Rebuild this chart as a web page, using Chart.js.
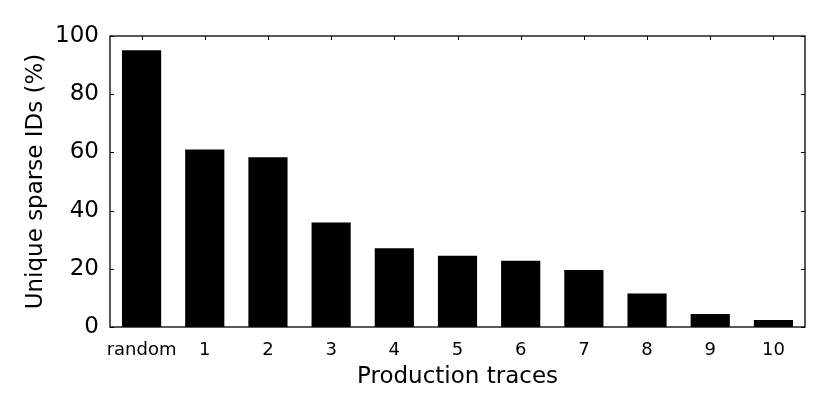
<!DOCTYPE html>
<html>
<head>
<meta charset="utf-8">
<script src="https://cdn.jsdelivr.net/npm/chart.js@4/dist/chart.umd.min.js"></script>
<style>
  html, body { margin: 0; padding: 0; background: #ffffff; }
  #chart { display: block; }
</style>
</head>
<body>
<canvas id="chart" width="830" height="415"></canvas>
<script>
// ============================================
// DATA
// ============================================
const traceLabels = ["random", "1", "2", "3", "4", "5", "6", "7", "8", "9", "10"];
const uniquePct = [95.1, 61.0, 58.3, 35.9, 27.1, 24.5, 22.8, 19.6, 11.5, 4.5, 2.4];
const yTickValues = [0, 20, 40, 60, 80, 100];

const FONT = "'DejaVu Sans', sans-serif";

// ============================================
// FRAME + INWARD TICKS (matplotlib classic look)
// ============================================
const frameTicks = {
    id: "frameTicks",
    afterDatasetsDraw(chart) {
        const ctx = chart.ctx;
        const area = chart.chartArea;
        const xScale = chart.scales.x;
        const yScale = chart.scales.y;
        const len = 4;

        ctx.save();
        ctx.strokeStyle = "#000000";
        ctx.lineWidth = 1;

        ctx.beginPath();
        xScale.ticks.forEach((t, i) => {
            const x = Math.round(xScale.getPixelForTick(i)) + 0.5;
            ctx.moveTo(x, area.top);
            ctx.lineTo(x, area.top + len);
            ctx.moveTo(x, area.bottom);
            ctx.lineTo(x, area.bottom - len);
        });
        yTickValues.forEach(v => {
            const y = Math.round(yScale.getPixelForValue(v)) + 0.5;
            ctx.moveTo(area.left, y);
            ctx.lineTo(area.left + len, y);
            ctx.moveTo(area.right, y);
            ctx.lineTo(area.right - len, y);
        });
        ctx.stroke();

        ctx.lineWidth = 1.3;
        ctx.strokeRect(area.left, area.top, area.right - area.left, area.bottom - area.top);
        ctx.restore();
    }
};

// ============================================
// CHART
// ============================================
const ctx = document.getElementById("chart").getContext("2d");
new Chart(ctx, {
    type: "bar",
    data: {
        labels: traceLabels,
        datasets: [{
            data: uniquePct,
            backgroundColor: "#000000",
            borderColor: "#000000",
            borderWidth: 0,
            barPercentage: 0.62,
            categoryPercentage: 1.0
        }]
    },
    options: {
        responsive: false,
        animation: false,
        layout: { padding: { left: 0, right: 25, top: 36, bottom: 0 } },
        plugins: {
            legend: { display: false },
            tooltip: { enabled: false }
        },
        scales: {
            x: {
                grid: { display: false, drawTicks: false },
                border: { display: false },
                ticks: {
                    color: "#000000",
                    font: { family: FONT, size: 18 },
                    padding: 13,
                    maxRotation: 0,
                    autoSkip: false
                },
                title: {
                    display: true,
                    text: "Production traces",
                    color: "#000000",
                    font: { family: FONT, size: 23 },
                    padding: { top: 0, bottom: 24 }
                },
                afterFit(scale) { scale.height = 88; }
            },
            y: {
                min: 0,
                max: 100,
                grid: { display: false, drawTicks: false },
                border: { display: false },
                ticks: {
                    stepSize: 20,
                    color: "#000000",
                    font: { family: FONT, size: 23 },
                    padding: 11
                },
                title: {
                    display: true,
                    text: "Unique sparse IDs (%)",
                    color: "#000000",
                    font: { family: FONT, size: 23 },
                    padding: { top: 22, bottom: 0 }
                },
                afterFit(scale) { scale.width = 110; }
            }
        }
    },
    plugins: [frameTicks]
});
</script>
</body>
</html>
